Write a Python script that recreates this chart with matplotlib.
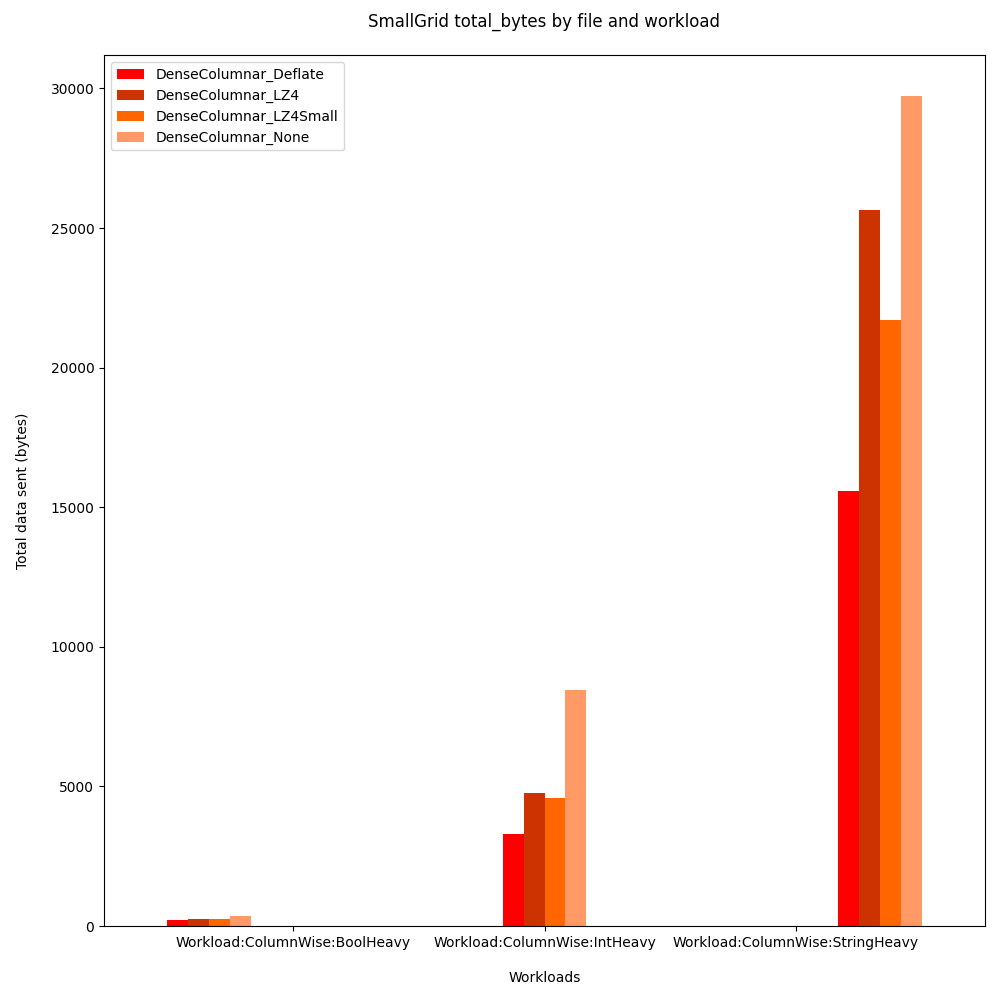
import matplotlib
matplotlib.use("Agg")
import matplotlib.pyplot as plt
import numpy as np

workloads = ["Workload:ColumnWise:BoolHeavy", "Workload:ColumnWise:IntHeavy", "Workload:ColumnWise:StringHeavy"]
files = ["DenseColumnar_Deflate", "DenseColumnar_LZ4", "DenseColumnar_LZ4Small", "DenseColumnar_None"]
deflate = [215, 3294, 15573]
lz4 = [251, 4761, 25632]
lz4small = [251, 4582, 21695]
none_vals = [358, 8449, 29714]
colors = ["#ff0000", "#cc3300", "#ff6600", "#ff9966"]

series = [deflate, lz4, lz4small, none_vals]

fig = plt.figure(figsize=(10, 10), dpi=100)
ax = fig.add_axes([0.104, 0.074, 0.881, 0.871])
x = np.arange(len(workloads))
n = len(files)
w = 1 / (n * len(workloads))
for i, (name, vals) in enumerate(zip(files, series)):
    lefts = x - 0.5 + (x * n + i) * w
    ax.bar(lefts, vals, width=w, align="edge", color=colors[i], label=name)

ax.set_xticks(x)
ax.set_xticklabels(workloads)
ax.set_xlim(-0.751, 2.751)
ax.set_xlabel("Workloads", labelpad=15)
ax.set_ylabel("Total data sent (bytes)", labelpad=15)
ax.set_title("SmallGrid total_bytes by file and workload", fontsize=12, pad=20)
ax.legend(loc="upper left")
fig.savefig("out.png", dpi=100)
